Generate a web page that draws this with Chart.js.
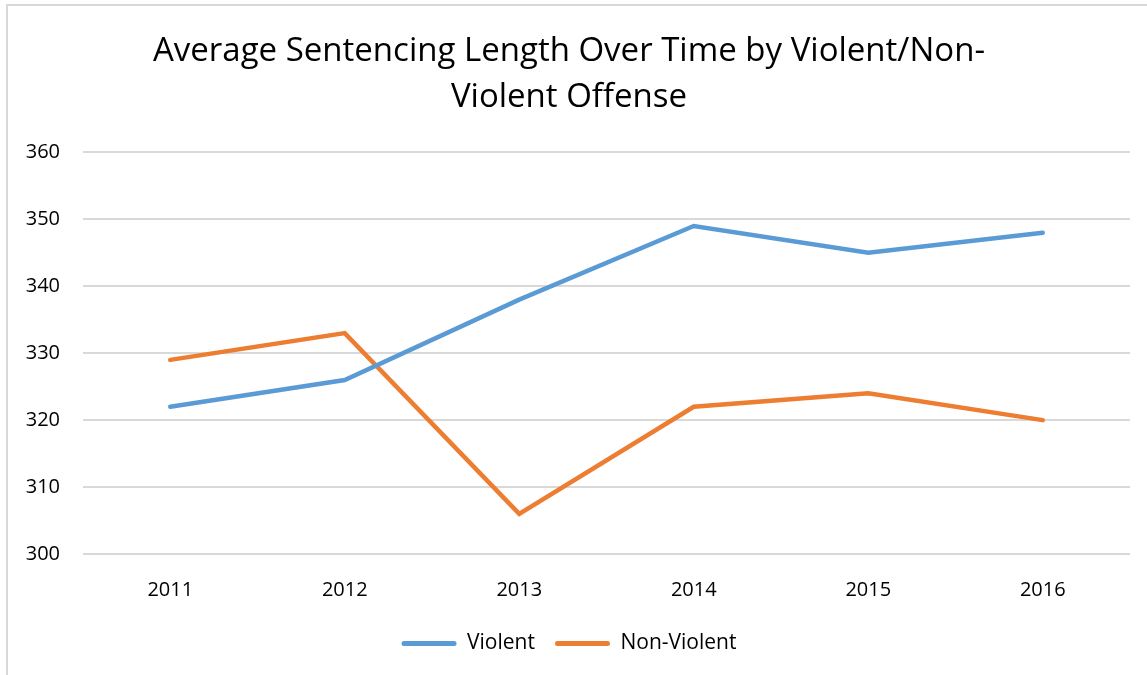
<!DOCTYPE html>
<html>
<head>
<meta charset="utf-8">
<script src="https://cdn.jsdelivr.net/npm/chart.js@4"></script>
<style>
    body { margin: 0; background: #fff; }
    #frame { position: absolute; left: 6px; top: 4px; width: 1160px; height: 700px; border-left: 2px solid #d9d9d9; border-top: 2px solid #d9d9d9; }
    #wrap { position: absolute; left: 0; top: 0; width: 1147px; height: 675px; }
</style>
</head>
<body>
<div id="frame"></div>
<div id="wrap"><canvas id="sentChart"></canvas></div>
<script>
const years = ['2011', '2012', '2013', '2014', '2015', '2016'];
const violent = [322, 326, 338, 349, 345, 348];
const nonViolent = [329, 333, 306, 322, 324, 320];
const titleLines = ['Average Sentencing Length Over Time by Violent/Non-', 'Violent Offense'];

const fontFamily = '"Open Sans", "DejaVu Sans", sans-serif';

const ctx = document.getElementById('sentChart').getContext('2d');
const chartInstance = new Chart(ctx, {
    type: 'line',
    data: {
        labels: years,
        datasets: [{
            label: 'Violent',
            data: violent,
            borderColor: '#5b9bd5',
            backgroundColor: '#5b9bd5',
            borderWidth: 4.5,
            pointRadius: 0,
            tension: 0,
        }, {
            label: 'Non-Violent',
            data: nonViolent,
            borderColor: '#ed7d31',
            backgroundColor: '#ed7d31',
            borderWidth: 4.5,
            pointRadius: 0,
            tension: 0,
        }],
    },
    options: {
        responsive: true,
        maintainAspectRatio: false,
        animation: false,
        elements: { line: { borderCapStyle: 'round', borderJoinStyle: 'miter' } },
        layout: { padding: { left: 8, right: 17, top: 14, bottom: 11 } },
        plugins: {
            title: {
                display: true,
                text: titleLines,
                color: '#000',
                font: { family: fontFamily, size: 33, weight: 'normal', lineHeight: 1.4 },
                padding: { top: 14, bottom: 32 },
            },
            legend: {
                position: 'bottom',
                labels: {
                    color: '#000',
                    font: { family: fontFamily, size: 21 },
                    boxWidth: 55,
                    boxHeight: 5,
                    padding: 20,
                    generateLabels: (chart) => chart.data.datasets.map((ds, i) => ({
                        text: ds.label,
                        fillStyle: ds.borderColor,
                        strokeStyle: ds.borderColor,
                        lineWidth: 0,
                        borderRadius: 2.5,
                        datasetIndex: i,
                        fontColor: '#000',
                    })),
                },
            },
            tooltip: { enabled: false },
        },
        scales: {
            x: {
                offset: true,
                grid: { display: false },
                border: { display: false },
                ticks: { color: '#000', font: { family: fontFamily, size: 20 }, padding: 16 },
                afterFit: (scale) => { scale.height = 59; },
            },
            y: {
                min: 300,
                max: 360,
                grid: { color: '#d9d9d9', lineWidth: 2, drawTicks: false },
                border: { display: false },
                ticks: { stepSize: 10, color: '#000', font: { family: fontFamily, size: 20 }, padding: 23 },
                afterFit: (scale) => { scale.width = 75; },
            },
        },
    },
});
</script>
</body>
</html>
